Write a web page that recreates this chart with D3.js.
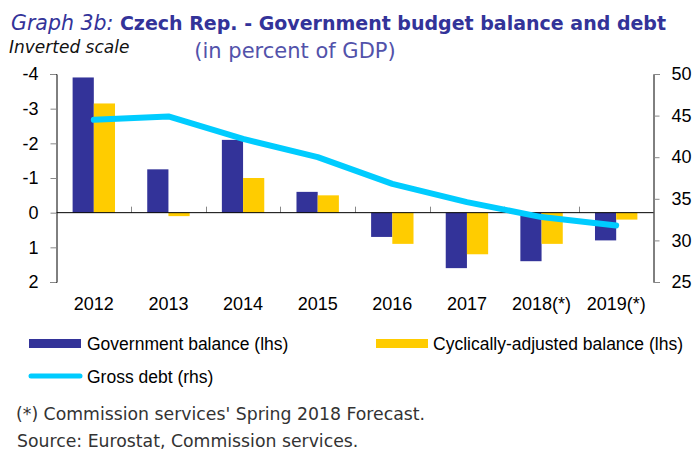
<!DOCTYPE html>
<html lang="en">
<head>
    <meta charset="UTF-8">
    <title>Czech Rep. - Government budget balance and debt</title>
    <script src="https://cdnjs.cloudflare.com/ajax/libs/d3/7.8.5/d3.min.js"></script>
    <style>
        body {
            margin: 0;
            background: #fff;
        }
        text {
            font-family: "Liberation Sans", Arial, sans-serif;
        }
        .gothic {
            font-family: "DejaVu Sans", sans-serif;
        }
    </style>
</head>
<body>
    <div id="chart"></div>
    <script>
        // Data
        const years = ["2012", "2013", "2014", "2015", "2016", "2017", "2018(*)", "2019(*)"];
        const govBalance = [-3.9, -1.25, -2.1, -0.6, 0.7, 1.6, 1.4, 0.8];
        const cycBalance = [-3.15, 0.1, -1.0, -0.5, 0.9, 1.2, 0.9, 0.2];
        const grossDebt = [44.5, 44.9, 42.2, 40.0, 36.8, 34.6, 32.8, 31.8];
        const leftTicks = [-4, -3, -2, -1, 0, 1, 2];
        const rightTicks = [25, 30, 35, 40, 45, 50];

        const width = 699, height = 450;
        const navy = "#333399", yellow = "#ffcc00", cyan = "#00ccff";

        const svg = d3.select("#chart").append("svg")
            .attr("width", width)
            .attr("height", height);

        // plot area
        const plotLeft = 56.5, plotRight = 653.5, plotTop = 74, plotBottom = 282;

        // inverted scale on the left: negative (deficit) goes up
        const yLeft = d3.scaleLinear().domain([-4, 2]).range([plotTop, plotBottom]);
        const yRight = d3.scaleLinear().domain([25, 50]).range([plotBottom, plotTop]);

        const x = d3.scaleBand().domain(years).range([plotLeft, plotRight]).padding(0);
        const xInner = d3.scaleBand().domain(["gov", "cyc"])
            .range([0, x.bandwidth()]).paddingInner(0).paddingOuter(0.76);

        // bars
        const rows = years.map((y, i) => ({ year: y, gov: govBalance[i], cyc: cycBalance[i] }));
        const groups = svg.append("g").selectAll("g")
            .data(rows)
            .enter().append("g")
            .attr("transform", d => `translate(${x(d.year)},0)`);

        groups.selectAll("rect")
            .data(d => [{ key: "gov", v: d.gov }, { key: "cyc", v: d.cyc }])
            .enter().append("rect")
            .attr("x", d => xInner(d.key))
            .attr("width", xInner.bandwidth())
            .attr("y", d => Math.min(yLeft(d.v), yLeft(0)))
            .attr("height", d => Math.abs(yLeft(d.v) - yLeft(0)))
            .attr("fill", d => d.key === "gov" ? navy : yellow);

        // zero line with upward category ticks
        const xAxis = svg.append("g")
            .attr("transform", `translate(0,${yLeft(0)})`);
        xAxis.selectAll("line.tk")
            .data(years.slice(1))
            .enter().append("line")
            .attr("class", "tk")
            .attr("x1", d => Math.round(x(d)) + 0.5)
            .attr("x2", d => Math.round(x(d)) + 0.5)
            .attr("y1", 0).attr("y2", -6)
            .attr("stroke", "#888");
        xAxis.append("line")
            .attr("x1", plotLeft).attr("x2", plotRight)
            .attr("y1", 0).attr("y2", 0)
            .attr("stroke", "#000");

        // left axis
        const axL = svg.append("g")
            .attr("transform", `translate(${plotLeft},0)`)
            .call(d3.axisLeft(yLeft).tickValues(leftTicks).tickSize(6).tickPadding(12)
                .tickFormat(d => d));
        axL.select(".domain").attr("stroke", "#000");
        axL.selectAll(".tick line").attr("stroke", "#888");
        axL.selectAll("text").attr("font-size", 18).attr("fill", "#000")
            .attr("font-family", "Liberation Sans, Arial, sans-serif");

        // right axis
        const axR = svg.append("g")
            .attr("transform", `translate(${plotRight},0)`)
            .call(d3.axisRight(yRight).tickValues(rightTicks).tickSize(6).tickPadding(12));
        axR.select(".domain").attr("stroke", "#000");
        axR.selectAll(".tick line").attr("stroke", "#888");
        axR.selectAll("text").attr("font-size", 18).attr("fill", "#000")
            .attr("font-family", "Liberation Sans, Arial, sans-serif");

        // category labels
        svg.append("g").selectAll("text")
            .data(years)
            .enter().append("text")
            .attr("x", d => x(d) + x.bandwidth() / 2)
            .attr("y", 310)
            .attr("text-anchor", "middle")
            .attr("font-size", 18)
            .text(d => d);

        // debt line
        const line = d3.line()
            .x((d, i) => x(years[i]) + x.bandwidth() / 2)
            .y(d => yRight(d));
        svg.append("path")
            .datum(grossDebt)
            .attr("d", line)
            .attr("fill", "none")
            .attr("stroke", cyan)
            .attr("stroke-width", 6)
            .attr("stroke-linecap", "round")
            .attr("stroke-linejoin", "round");

        // title
        const title = svg.append("text").attr("class", "gothic")
            .attr("x", 11).attr("y", 30).attr("fill", navy).attr("font-size", 19);
        title.append("tspan").attr("font-style", "italic").attr("font-size", 20.5).text("Graph 3b: ");
        title.append("tspan").attr("font-weight", "bold")
            .text("Czech Rep. - Government budget balance and debt");

        svg.append("text").attr("class", "gothic")
            .attr("x", 9).attr("y", 52.5)
            .attr("font-size", 17).attr("font-style", "italic").attr("fill", "#111")
            .text("Inverted scale");

        svg.append("text").attr("class", "gothic")
            .attr("x", 295).attr("y", 58)
            .attr("text-anchor", "middle")
            .attr("font-size", 21).attr("fill", "#5252aa")
            .text("(in percent of GDP)");

        // legend
        const legend = svg.append("g");
        legend.append("rect").attr("x", 29).attr("y", 339).attr("width", 52).attr("height", 9).attr("fill", navy);
        legend.append("text").attr("x", 87).attr("y", 350).attr("font-size", 17.5)
            .text("Government balance (lhs)");
        legend.append("rect").attr("x", 376).attr("y", 339).attr("width", 52).attr("height", 9).attr("fill", yellow);
        legend.append("text").attr("x", 433).attr("y", 350).attr("font-size", 17.5)
            .text("Cyclically-adjusted balance (lhs)");
        legend.append("line").attr("x1", 31).attr("x2", 80).attr("y1", 376).attr("y2", 376)
            .attr("stroke", cyan).attr("stroke-width", 5).attr("stroke-linecap", "round");
        legend.append("text").attr("x", 87).attr("y", 383).attr("font-size", 17.5)
            .text("Gross debt (rhs)");

        // footnotes
        svg.append("text").attr("class", "gothic")
            .attr("x", 16).attr("y", 420).attr("font-size", 17.3).attr("fill", "#333")
            .text("(*) Commission services' Spring 2018 Forecast.");
        svg.append("text").attr("class", "gothic")
            .attr("x", 17).attr("y", 447).attr("font-size", 17.3).attr("fill", "#333")
            .text("Source: Eurostat, Commission services.");
    </script>
</body>
</html>
